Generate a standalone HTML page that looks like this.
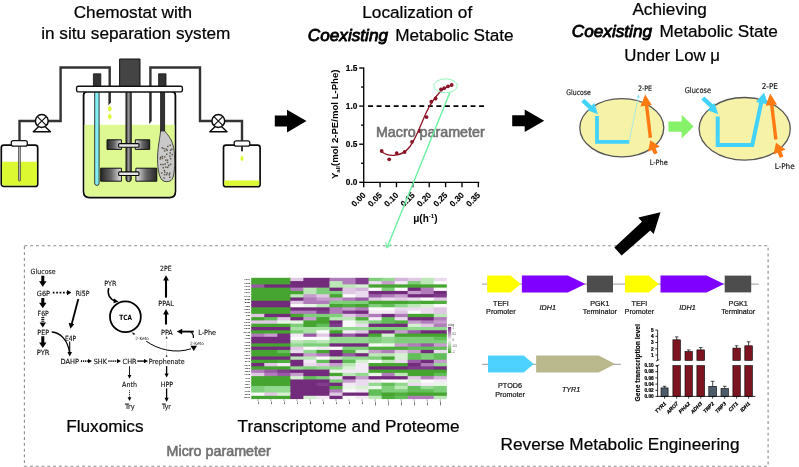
<!DOCTYPE html>
<html lang="en">
<head>
<meta charset="utf-8">
<title>Graphical abstract</title>
<style>
html,body{margin:0;padding:0;background:#fff;overflow:hidden;}
svg{display:block;font-family:"Liberation Sans",sans-serif;will-change:transform;}
</style>
</head>
<body>
<svg width="799" height="467" viewBox="0 0 799 467">
<rect width="799" height="467" fill="#fff"/>
<!-- dashed box -->
<rect x="24.4" y="245.8" width="743.7" height="220.4" fill="none" stroke="#8c8c8c" stroke-width="1.1" stroke-dasharray="2.9 2.88"/>

<defs>
<linearGradient id="bl" x1="0" x2="1"><stop offset="0" stop-color="#262626"/><stop offset="0.5" stop-color="#666"/><stop offset="1" stop-color="#e6e6e6"/></linearGradient>
<linearGradient id="br" x1="0" x2="1"><stop offset="0" stop-color="#e6e6e6"/><stop offset="0.5" stop-color="#666"/><stop offset="1" stop-color="#262626"/></linearGradient>
<linearGradient id="sh" x1="0" x2="1"><stop offset="0" stop-color="#333"/><stop offset="0.5" stop-color="#999"/><stop offset="1" stop-color="#333"/></linearGradient>
</defs>
<g stroke-linejoin="round">
<!-- left bottle -->
<rect x="1.3" y="145.1" width="36.4" height="41.3" rx="2.5" fill="#fff" stroke="#0a0a0a" stroke-width="1.7"/>
<path d="M2.15 161.8H36.85V184.1Q36.85 185.55 35.4 185.55H3.6Q2.15 185.55 2.15 184.1Z" fill="#dbf831"/>
<rect x="18.5" y="146" width="1.9" height="35" rx="0.9" fill="#bbb" stroke="#333" stroke-width="0.7"/>
<path d="M19.5 141V121H60.6V67.5H109.7V86" fill="none" stroke="#333" stroke-width="2.4" stroke-linejoin="miter"/>
<rect x="11.3" y="140.6" width="16" height="5.6" rx="2" fill="#fff" stroke="#111" stroke-width="1.3"/>
<!-- left pump -->
<path d="M41.8 123.5L33.3 131.7H50.5Z" fill="#fff" stroke="#0a0a0a" stroke-width="1.4"/>
<circle cx="41.8" cy="121" r="6.4" fill="#fff" stroke="#0a0a0a" stroke-width="1.5"/>
<path d="M37.6 116.8L46 125.2M46 116.8L37.6 125.2" stroke="#111" stroke-width="1.2" fill="none"/>
<!-- right pipe -->
<path d="M150.4 86V67.5H200V121H242V141" fill="none" stroke="#333" stroke-width="2.4" stroke-linejoin="miter"/>
<!-- right pump -->
<path d="M218.3 123.5L209.8 131.7H227Z" fill="#fff" stroke="#0a0a0a" stroke-width="1.4"/>
<circle cx="218.3" cy="121" r="6.4" fill="#fff" stroke="#0a0a0a" stroke-width="1.5"/>
<path d="M214.1 116.8L222.5 125.2M222.5 116.8L214.1 125.2" stroke="#111" stroke-width="1.2" fill="none"/>
<!-- right bottle -->
<rect x="223.5" y="145.1" width="36.6" height="41.6" rx="2.5" fill="#fff" stroke="#0a0a0a" stroke-width="1.7"/>
<path d="M224.35 180.6H259.25V184.4Q259.25 185.85 257.8 185.85H225.8Q224.35 185.85 224.35 184.4Z" fill="#dbf831"/>
<rect x="241" y="146" width="2" height="5.3" fill="#333"/>
<rect x="234.2" y="140.8" width="15.6" height="5.4" rx="2" fill="#fff" stroke="#111" stroke-width="1.3"/>
<path d="M242 155.6q2.6 3.8 0 5.2q-2.6 -1.4 0 -5.2z" fill="#dbf831" stroke="#dbf831" stroke-width="0.6"/>
<!-- vessel -->
<path d="M83.6 95.5Q83.6 91.5 87.6 91.5H171.4Q175.4 91.5 175.4 95.5V191.5Q175.4 197.5 169.4 197.5H89.6Q83.6 197.5 83.6 191.5Z" fill="#fff" stroke="#0a0a0a" stroke-width="1.8"/>
<path d="M84.5 124.8H174.5V191.3Q174.5 196.6 169.2 196.6H89.8Q84.5 196.6 84.5 191.3Z" fill="#dff992"/>
<path d="M108.4 91h2.5v11.4l-2.5 2.8z" fill="#2a2a2a" stroke="none"/>
<path d="M149.2 91h2.5v30l-2.5 2.9z" fill="#2a2a2a" stroke="none"/>
<!-- motor -->
<rect x="119.6" y="59" width="20.4" height="27.5" fill="#444" stroke="#111" stroke-width="1"/>
<!-- posts -->
<rect x="93.4" y="73.8" width="7.4" height="12.9" fill="#333" stroke="#111" stroke-width="0.8"/>
<rect x="158.6" y="73.8" width="7.4" height="12.9" fill="#333" stroke="#111" stroke-width="0.8"/>
<!-- cyan tube -->
<path d="M94.7 92V183.2Q94.7 185.4 96.9 185.4Q99.1 185.4 99.1 183.2V92Z" fill="#82eef2" stroke="#222" stroke-width="0.9"/>
<!-- drops -->
<path d="M109.8 105.9q2.9 3.7 0 5.3q-2.9 -1.6 0 -5.3z" fill="#dbf831" stroke="#dbf831" stroke-width="0.8"/>
<path d="M109.8 113.8q2.9 3.7 0 5.3q-2.9 -1.6 0 -5.3z" fill="#dbf831" stroke="#dbf831" stroke-width="0.8"/>
<!-- rod + bag -->
<rect x="160.6" y="92" width="4" height="39.4" fill="#333" stroke="#111" stroke-width="0.8"/>
<path d="M160.6 131C160.2 136 158 146 157.6 156C157.3 166 158.5 176 162 180C164 182 168.5 182.2 171 180.5C174.2 178 174.9 168 174.6 158C174.4 149 173.2 142.5 169 136.5C167.2 134 165.5 132 164.6 131Z" fill="#c9c9c9" stroke="#333" stroke-width="0.9"/>
<g fill="#5c5448"><rect x="167.1" y="145.7" width="1.45" height="1.45"/><rect x="169.5" y="144.5" width="1.45" height="1.45"/><rect x="161.5" y="147.1" width="1.45" height="1.45"/><rect x="163.2" y="147.9" width="1.45" height="1.45"/><rect x="165.6" y="148.4" width="1.45" height="1.45"/><rect x="171.2" y="148.5" width="1.45" height="1.45"/><rect x="164.1" y="150.2" width="1.45" height="1.45"/><rect x="166.5" y="149.6" width="1.45" height="1.45"/><rect x="169.8" y="149.5" width="1.45" height="1.45"/><rect x="166.0" y="153.6" width="1.45" height="1.45"/><rect x="169.4" y="152.2" width="1.45" height="1.45"/><rect x="171.5" y="153.9" width="1.45" height="1.45"/><rect x="159.9" y="156.6" width="1.45" height="1.45"/><rect x="161.7" y="155.8" width="1.45" height="1.45"/><rect x="164.0" y="156.2" width="1.45" height="1.45"/><rect x="169.2" y="155.5" width="1.45" height="1.45"/><rect x="159.6" y="158.2" width="1.45" height="1.45"/><rect x="161.7" y="157.7" width="1.45" height="1.45"/><rect x="165.1" y="159.4" width="1.45" height="1.45"/><rect x="166.8" y="159.4" width="1.45" height="1.45"/><rect x="169.9" y="158.0" width="1.45" height="1.45"/><rect x="166.8" y="161.7" width="1.45" height="1.45"/><rect x="160.1" y="163.8" width="1.45" height="1.45"/><rect x="162.4" y="163.9" width="1.45" height="1.45"/><rect x="164.5" y="163.3" width="1.45" height="1.45"/><rect x="168.0" y="164.7" width="1.45" height="1.45"/><rect x="169.9" y="163.6" width="1.45" height="1.45"/><rect x="162.5" y="167.0" width="1.45" height="1.45"/><rect x="165.1" y="166.4" width="1.45" height="1.45"/><rect x="167.0" y="166.6" width="1.45" height="1.45"/><rect x="163.6" y="169.8" width="1.45" height="1.45"/><rect x="161.0" y="172.3" width="1.45" height="1.45"/><rect x="164.0" y="171.4" width="1.45" height="1.45"/><rect x="166.4" y="172.3" width="1.45" height="1.45"/><rect x="169.0" y="172.5" width="1.45" height="1.45"/><rect x="163.8" y="173.9" width="1.45" height="1.45"/><rect x="165.9" y="173.9" width="1.45" height="1.45"/><rect x="168.6" y="174.1" width="1.45" height="1.45"/><rect x="163.3" y="177.2" width="1.45" height="1.45"/><rect x="169.0" y="176.6" width="1.45" height="1.45"/></g>
<!-- impellers -->
<rect x="107" y="139.8" width="14.4" height="9.6" fill="url(#bl)" stroke="#111" stroke-width="1"/>
<rect x="135.3" y="139.8" width="14.4" height="9.6" fill="url(#br)" stroke="#111" stroke-width="1"/>
<rect x="100.7" y="168.2" width="20.7" height="13" fill="url(#bl)" stroke="#111" stroke-width="1"/>
<rect x="135.9" y="168.2" width="20.9" height="13" fill="url(#br)" stroke="#111" stroke-width="1"/>
<!-- shaft -->
<path d="M126 92V179.5Q126 181.6 128.6 181.6Q131.2 181.6 131.2 179.5V92Z" fill="url(#sh)" stroke="#111" stroke-width="1"/>
<rect x="118.6" y="143.6" width="20.4" height="3.6" rx="1" fill="#e4e4e4" stroke="#0a0a0a" stroke-width="1.1"/>
<rect x="118.6" y="171.9" width="20.4" height="3.6" rx="1" fill="#e4e4e4" stroke="#0a0a0a" stroke-width="1.1"/>
<!-- lid -->
<rect x="76.6" y="86.3" width="105.8" height="5.6" rx="1.6" fill="#fff" stroke="#111" stroke-width="1.4"/>
</g>

<path d="M274.8 115.6H287V109.8L306.5 121.1L287 132.4V126.6H274.8Z" fill="#000"/>
<path d="M512.2 115.3H524.7V109.5L544.2 120.8L524.7 132.1V126.3H512.2Z" fill="#000"/>
<g stroke="#000" stroke-width="1.35" fill="none">
<path d="M363.7 67.5V182.9M363.1 182.3H479.3"/>
<path d="M359.2 182.30H363.7"/>
<path d="M361.09999999999997 163.25H363.7"/>
<path d="M359.2 144.20H363.7"/>
<path d="M361.09999999999997 125.15H363.7"/>
<path d="M359.2 106.10H363.7"/>
<path d="M361.09999999999997 87.05H363.7"/>
<path d="M359.2 68.00H363.7"/>
<path d="M363.70 182.3V187.2"/>
<path d="M380.08 182.3V187.2"/>
<path d="M396.46 182.3V187.2"/>
<path d="M412.84 182.3V187.2"/>
<path d="M429.22 182.3V187.2"/>
<path d="M445.60 182.3V187.2"/>
<path d="M461.98 182.3V187.2"/>
<path d="M478.36 182.3V187.2"/>
</g>
<path d="M368.1 106.1H484.4" stroke="#000" stroke-width="1.8" stroke-dasharray="4.9 3.64" fill="none"/>
<g font-weight="bold" fill="#000" stroke="#000" stroke-width="1.5">
<text transform="translate(357.40,185.30) scale(0.1)" font-size="83" text-anchor="end">0.0</text>
<text transform="translate(357.40,147.20) scale(0.1)" font-size="83" text-anchor="end">0.5</text>
<text transform="translate(357.40,109.10) scale(0.1)" font-size="83" text-anchor="end">1.0</text>
<text transform="translate(357.40,71.00) scale(0.1)" font-size="83" text-anchor="end">1.5</text>
<text transform="translate(366.20,195.80) rotate(-45) scale(0.1)" font-size="83" text-anchor="end">0.00</text>
<text transform="translate(382.58,195.80) rotate(-45) scale(0.1)" font-size="83" text-anchor="end">0.05</text>
<text transform="translate(398.96,195.80) rotate(-45) scale(0.1)" font-size="83" text-anchor="end">0.10</text>
<text transform="translate(415.34,195.80) rotate(-45) scale(0.1)" font-size="83" text-anchor="end">0.15</text>
<text transform="translate(431.72,195.80) rotate(-45) scale(0.1)" font-size="83" text-anchor="end">0.20</text>
<text transform="translate(448.10,195.80) rotate(-45) scale(0.1)" font-size="83" text-anchor="end">0.25</text>
<text transform="translate(464.48,195.80) rotate(-45) scale(0.1)" font-size="83" text-anchor="end">0.30</text>
<text transform="translate(480.86,195.80) rotate(-45) scale(0.1)" font-size="83" text-anchor="end">0.35</text>
</g>
<text transform="translate(425.4,222) scale(0.1)" font-size="100" font-weight="bold" text-anchor="middle">μ(h<tspan font-size="62" dy="-40">-1</tspan><tspan dy="40">)</tspan></text>
<text transform="translate(338.2,124.3) rotate(-90) scale(0.1)" font-size="96" font-weight="bold" text-anchor="middle">Y<tspan font-size="60" dy="18">all</tspan><tspan dy="-18">(mol 2-PE/mol L-Phe)</tspan></text>
<path d="M381.7 151.8C385 154.5 389 155.6 394 155.3C400 155 405.5 152.5 410 146.5C416 138.5 421 124 426.5 112C430 104.5 434.5 98 439.5 92.5C443.5 88.5 447.5 86.5 452 85" fill="none" stroke="#8c1528" stroke-width="1.3"/>
<g fill="#8c1528"><circle cx="381.7" cy="151" r="1.9"/><circle cx="389.2" cy="159.3" r="1.9"/><circle cx="396.7" cy="153.1" r="1.9"/><circle cx="404.6" cy="152" r="1.9"/><circle cx="412" cy="141.8" r="1.9"/><circle cx="419.6" cy="131" r="1.9"/><circle cx="426.6" cy="117.1" r="1.9"/><circle cx="431.3" cy="101.7" r="1.9"/><circle cx="435.6" cy="98.5" r="1.9"/><circle cx="441" cy="89.3" r="1.9"/><circle cx="444.2" cy="88.2" r="1.9"/><circle cx="448" cy="86.3" r="1.9"/><circle cx="451.7" cy="85" r="1.9"/></g>
<text x="375.9" y="136.5" font-size="14.3" fill="#707070" stroke="#707070" stroke-width="0.6">Macro parameter</text>
<ellipse cx="445.6" cy="85.8" rx="11.8" ry="6.9" fill="none" stroke="#86f4b2" stroke-width="0.9"/>
<path d="M449.9 92.6L387.1 247.4" stroke="#6cf2a2" stroke-width="1.45" fill="none"/>
<path d="M385.7 242.3L387 247.8L391.2 244.1" stroke="#6cf2a2" stroke-width="1.1" fill="none"/>

<g font-size="7.3" fill="#111" stroke="#111" stroke-width="1.5" font-family="'DejaVu Sans Condensed','DejaVu Sans','Liberation Sans',sans-serif">
<ellipse cx="621.8" cy="127.8" rx="42" ry="29.1" fill="#f6f2a8" stroke="#555" stroke-width="1.3"/>
<ellipse cx="744.7" cy="128.8" rx="45.6" ry="31.3" fill="#f6f2a8" stroke="#555" stroke-width="1.3"/>
<text transform="translate(566.30,94.70) scale(0.1)" font-size="75" textLength="245.0" lengthAdjust="spacingAndGlyphs">Glucose</text>
<text transform="translate(637.90,91.20) scale(0.1)" font-size="75" textLength="142.0" lengthAdjust="spacingAndGlyphs">2-PE</text>
<text transform="translate(649.70,164.70) scale(0.1)" font-size="75" textLength="180.0" lengthAdjust="spacingAndGlyphs">L-Phe</text>
<text transform="translate(684.70,93.00) scale(0.1)" font-size="79" textLength="263.0" lengthAdjust="spacingAndGlyphs">Glucose</text>
<text transform="translate(761.80,89.30) scale(0.1)" font-size="79" textLength="160.0" lengthAdjust="spacingAndGlyphs">2-PE</text>
<text transform="translate(774.70,169.00) scale(0.1)" font-size="79" textLength="200.0" lengthAdjust="spacingAndGlyphs">L-Phe</text>
</g>
<g fill="none" stroke="#42d2fa" stroke-linejoin="miter">
<path d="M597 116V141.8H629.2" stroke-width="3.8"/>
<path d="M582.8 100.3L592 108.8" stroke-width="4.3"/>
<path d="M717.7 116.4V144.9H752.3L761.5 101" stroke-width="4"/>
<path d="M702.8 98L712.3 106.8" stroke-width="4.4"/>
<path d="M629.2 141.8L638.2 97" stroke="#8fe4f4" stroke-width="0.7"/>
</g>
<path d="M598 114.2L587.4 110.3L594.2 103Z" fill="#42d2fa"/>
<path d="M718.3 114.2L707.5 110.3L714.5 103Z" fill="#42d2fa"/>
<path d="M764 92.5L768.2 104.5L756 102Z" fill="#42d2fa"/>
<path d="M638.6 94.6L640 98L636.6 97.3Z" fill="#8fe4f4"/>
<g fill="none" stroke="#ff7a12">
<path d="M650.4 137.8L646.4 104" stroke-width="3.4"/>
<path d="M655.8 153.8L653.3 148" stroke-width="4"/>
<path d="M775.9 139.5L771.6 104" stroke-width="3.4"/>
<path d="M781.6 157.2L779 150.8" stroke-width="4"/>
</g>
<path d="M645.2 94.5L651.8 105L640.4 106.4Z" fill="#ff7a12"/>
<path d="M650.3 140.3L659.8 146.6L648 151.8Z" fill="#ff7a12"/>
<path d="M770.2 93.5L777 104.4L765.6 105.8Z" fill="#ff7a12"/>
<path d="M776 142.8L785.6 149.4L773.6 154.6Z" fill="#ff7a12"/>
<path d="M668.4 121.39999999999999H681.7V114.8L693.6 126.6L681.7 138.4V131.79999999999998H668.4Z" fill="#86f26a"/>
<path d="M614.3 247.4L642 221.7L638.3 217.4L660.5 212.3L653.7 234L650.3 230.6L621.6 255.5Z" fill="#000"/>
<g font-size="7.1" fill="#111" stroke="#111" stroke-width="1.2" font-family="'DejaVu Sans Condensed','DejaVu Sans','Liberation Sans',sans-serif">
<text transform="translate(30.60,274.20) scale(0.1)" font-size="71" textLength="250.0" lengthAdjust="spacingAndGlyphs">Glucose</text>
<text transform="translate(36.80,295.60) scale(0.1)" font-size="71" textLength="132.0" lengthAdjust="spacingAndGlyphs">G6P</text>
<text transform="translate(75.70,295.60) scale(0.1)" font-size="71" textLength="137.0" lengthAdjust="spacingAndGlyphs">Ri5P</text>
<text transform="translate(37.60,316.20) scale(0.1)" font-size="71" textLength="112.0" lengthAdjust="spacingAndGlyphs">F6P</text>
<text transform="translate(37.30,334.90) scale(0.1)" font-size="71" textLength="118.0" lengthAdjust="spacingAndGlyphs">PEP</text>
<text transform="translate(36.80,355.10) scale(0.1)" font-size="71" textLength="127.0" lengthAdjust="spacingAndGlyphs">PYR</text>
<text transform="translate(64.90,340.60) scale(0.1)" font-size="71" textLength="113.0" lengthAdjust="spacingAndGlyphs">E4P</text>
<text transform="translate(60.60,363.90) scale(0.1)" font-size="71" textLength="185.0" lengthAdjust="spacingAndGlyphs">DAHP</text>
<text transform="translate(93.70,363.90) scale(0.1)" font-size="71" textLength="133.0" lengthAdjust="spacingAndGlyphs">SHK</text>
<text transform="translate(122.60,363.90) scale(0.1)" font-size="71" textLength="140.0" lengthAdjust="spacingAndGlyphs">CHR</text>
<text transform="translate(148.70,363.90) scale(0.1)" font-size="71" textLength="360.0" lengthAdjust="spacingAndGlyphs">Prephenate</text>
<text transform="translate(104.20,285.90) scale(0.1)" font-size="71" textLength="122.0" lengthAdjust="spacingAndGlyphs">PYR</text>
<text transform="translate(160.00,271.10) scale(0.1)" font-size="71" textLength="116.0" lengthAdjust="spacingAndGlyphs">2PE</text>
<text transform="translate(158.20,306.30) scale(0.1)" font-size="71" textLength="156.0" lengthAdjust="spacingAndGlyphs">PPAL</text>
<text transform="translate(161.00,334.70) scale(0.1)" font-size="71" textLength="118.0" lengthAdjust="spacingAndGlyphs">PPA</text>
<text transform="translate(198.20,334.70) scale(0.1)" font-size="71" textLength="179.0" lengthAdjust="spacingAndGlyphs">L-Phe</text>
<text transform="translate(122.10,386.90) scale(0.1)" font-size="71" textLength="149.0" lengthAdjust="spacingAndGlyphs">Anth</text>
<text transform="translate(160.70,386.90) scale(0.1)" font-size="71" textLength="125.0" lengthAdjust="spacingAndGlyphs">HPP</text>
<text transform="translate(125.00,409.10) scale(0.1)" font-size="71" textLength="97.0" lengthAdjust="spacingAndGlyphs">Try</text>
<text transform="translate(162.00,409.10) scale(0.1)" font-size="71" textLength="89.0" lengthAdjust="spacingAndGlyphs">Tyr</text>
</g>
<text transform="translate(119.3,319.7) scale(0.1)" font-size="72" font-weight="bold" font-family="'DejaVu Sans Condensed','DejaVu Sans','Liberation Sans',sans-serif" textLength="126" lengthAdjust="spacingAndGlyphs">TCA</text>
<g font-size="3.9" fill="#222" font-family="'DejaVu Sans Condensed','DejaVu Sans','Liberation Sans',sans-serif"><text transform="translate(135.20,339.60) scale(0.1)" font-size="44" textLength="138.0" lengthAdjust="spacingAndGlyphs">2-Keto</text><text transform="translate(190.10,344.60) scale(0.1)" font-size="44" textLength="138.0" lengthAdjust="spacingAndGlyphs">2-Keto</text></g>
<path d="M41.3 275.8H44.3V281.3H46.5L42.8 286.8L39.099999999999994 281.3H41.3Z" fill="#000"/>
<path d="M41.3 298H44.3V302.7H46.5L42.8 308.2L39.099999999999994 302.7H41.3Z" fill="#000"/>
<path d="M41.3 336.3H44.3V342.5H46.5L42.8 348L39.099999999999994 342.5H41.3Z" fill="#000"/>
<path d="M41.3 317.6h3M41.3 319.4h3M41.3 321.2h3" stroke="#000" stroke-width="1" />
<path d="M39.6 322.4H46L42.8 327.4Z" fill="#000"/>
<g stroke="#000" stroke-width="1.7" fill="none">
<path d="M52.8 292.6H67" stroke-dasharray="1.7 1.7"/>
<path d="M81 361.1H88.5" stroke-dasharray="1.1 1"/>
<path d="M108.4 361.1H117.5" stroke-dasharray="1.1 1"/>
</g>
<path d="M67 290L71.4 292.6L67 295.2Z" fill="#000"/>
<path d="M88 358.9L92 361.1L88 363.3Z" fill="#000"/>
<path d="M117 358.9L121 361.1L117 363.3Z" fill="#000"/>
<path d="M78.3 299L71.6 324.6" stroke="#000" stroke-width="1.8" fill="none"/>
<path d="M70.4 328.8L68.6 322.8L74.2 324.2Z" fill="#000"/>
<path d="M51.7 332C61 332.5 68 341 69.6 353" stroke="#000" stroke-width="1.3" fill="none"/>
<path d="M69.7 341.4V353" stroke="#000" stroke-width="1.1" fill="none"/>
<path d="M67.4 352L69.7 356.6L72 352Z" fill="#000"/>
<path d="M137.2 361.1H144.6" stroke="#000" stroke-width="1.3"/><path d="M144 358.9L148 361.1L144 363.3Z" fill="#000"/>
<circle cx="125.4" cy="316.8" r="15.4" fill="none" stroke="#000" stroke-width="1.8"/>
<path d="M108.7 288C107 294 109.5 299.5 115.5 301" stroke="#000" stroke-width="1.5" fill="none"/>
<path d="M114.2 298.6L118.6 301.8L113.4 303.2Z" fill="#000"/>
<path d="M166 297.6V279.5" stroke="#000" stroke-width="2.1"/><path d="M166 275.2L168.9 280.6H163.1Z" fill="#000"/>
<path d="M166 324.5V313.5" stroke="#000" stroke-width="2.1"/><path d="M166 309L168.9 314.4H163.1Z" fill="#000"/>
<path d="M193.8 331.6H181" stroke="#000" stroke-width="1.8"/><path d="M176.8 331.6L182.2 328.7V334.5Z" fill="#000"/>
<path d="M190.5 331.8C192.8 333 193.6 335.5 193.4 338" stroke="#000" stroke-width="1.2" fill="none"/>
<path d="M131.8 332.8L134 333.8" stroke="#000" stroke-width="0.8"/><path d="M135.4 334.4L132.8 334.6L133.6 332.6Z" fill="#000"/>
<path d="M146.2 341.2C158 349.5 175 354 191 348.8" stroke="#000" stroke-width="1" fill="none"/>
<path d="M190.4 345.8H197L193.8 351Z" fill="#000"/>
<path d="M166.6 357V338.5" stroke="#999" stroke-width="0.6" stroke-dasharray="0.7 0.7"/>
<path d="M166.6 336.3L167.6 338.6H165.6Z" fill="#222"/><path d="M166.6 354.5L167.6 356.8H165.6Z" fill="#222"/>
<path d="M129.5 366.2V375.5" stroke="#000" stroke-width="0.9"/><path d="M129.5 378.8L127.6 375H131.4Z" fill="#000"/>
<path d="M129.5 390.3V398" stroke="#000" stroke-width="0.9" stroke-dasharray="0.9 0.9"/><path d="M129.5 401L127.6 397.2H131.4Z" fill="#000"/>
<path d="M166.6 366.2V374" stroke="#000" stroke-width="1.3"/><path d="M166.6 377.6L164.5 373.4H168.7Z" fill="#000"/>
<path d="M166.6 388.4V398.5" stroke="#000" stroke-width="1.3"/><path d="M166.6 402L164.5 397.8H168.7Z" fill="#000"/>
<g>
<rect x="251.25" y="277.80" width="39.91" height="4.28" fill="#46a430"/>
<rect x="290.36" y="277.80" width="13.84" height="4.28" fill="#e0c8e4"/>
<rect x="303.39" y="277.80" width="26.87" height="4.28" fill="#732b7c"/>
<rect x="329.46" y="277.80" width="26.87" height="4.28" fill="#b07cba"/>
<rect x="355.53" y="277.80" width="13.84" height="4.28" fill="#803c8c"/>
<rect x="368.56" y="277.80" width="13.84" height="4.28" fill="#7ece7a"/>
<rect x="381.60" y="277.80" width="13.84" height="4.28" fill="#94d990"/>
<rect x="394.63" y="277.80" width="13.84" height="4.28" fill="#d4b4da"/>
<rect x="407.67" y="277.80" width="13.84" height="4.28" fill="#e0c8e4"/>
<rect x="420.71" y="277.80" width="13.84" height="4.28" fill="#bce8b8"/>
<rect x="433.74" y="277.80" width="13.04" height="4.28" fill="#ebdbee"/>
<rect x="251.25" y="281.08" width="39.91" height="4.28" fill="#46a430"/>
<rect x="290.36" y="281.08" width="39.91" height="4.28" fill="#732b7c"/>
<rect x="329.46" y="281.08" width="13.84" height="4.28" fill="#bce8b8"/>
<rect x="342.50" y="281.08" width="13.84" height="4.28" fill="#b07cba"/>
<rect x="355.53" y="281.08" width="13.84" height="4.28" fill="#803c8c"/>
<rect x="368.56" y="281.08" width="13.84" height="4.28" fill="#ebdbee"/>
<rect x="381.60" y="281.08" width="13.84" height="4.28" fill="#c69dcd"/>
<rect x="394.63" y="281.08" width="13.84" height="4.28" fill="#f3eaf5"/>
<rect x="407.67" y="281.08" width="13.84" height="4.28" fill="#7ece7a"/>
<rect x="420.71" y="281.08" width="13.84" height="4.28" fill="#bce8b8"/>
<rect x="433.74" y="281.08" width="13.04" height="4.28" fill="#fafafa"/>
<rect x="251.25" y="284.36" width="13.84" height="4.28" fill="#985aa4"/>
<rect x="264.29" y="284.36" width="65.97" height="4.28" fill="#732b7c"/>
<rect x="329.46" y="284.36" width="26.87" height="4.28" fill="#bce8b8"/>
<rect x="355.53" y="284.36" width="13.84" height="4.28" fill="#d6f1d2"/>
<rect x="368.56" y="284.36" width="78.21" height="4.28" fill="#46a430"/>
<rect x="251.25" y="287.63" width="39.91" height="4.28" fill="#46a430"/>
<rect x="290.36" y="287.63" width="13.84" height="4.28" fill="#b07cba"/>
<rect x="303.39" y="287.63" width="13.84" height="4.28" fill="#bce8b8"/>
<rect x="316.43" y="287.63" width="13.84" height="4.28" fill="#7ece7a"/>
<rect x="329.46" y="287.63" width="13.84" height="4.28" fill="#732b7c"/>
<rect x="342.50" y="287.63" width="13.84" height="4.28" fill="#e0c8e4"/>
<rect x="355.53" y="287.63" width="13.84" height="4.28" fill="#d4b4da"/>
<rect x="368.56" y="287.63" width="13.84" height="4.28" fill="#fafafa"/>
<rect x="381.60" y="287.63" width="13.84" height="4.28" fill="#7ece7a"/>
<rect x="394.63" y="287.63" width="13.84" height="4.28" fill="#fafafa"/>
<rect x="407.67" y="287.63" width="13.84" height="4.28" fill="#732b7c"/>
<rect x="420.71" y="287.63" width="13.84" height="4.28" fill="#b07cba"/>
<rect x="433.74" y="287.63" width="13.04" height="4.28" fill="#fafafa"/>
<rect x="251.25" y="290.91" width="52.94" height="4.28" fill="#46a430"/>
<rect x="303.39" y="290.91" width="13.84" height="4.28" fill="#bce8b8"/>
<rect x="316.43" y="290.91" width="26.87" height="4.28" fill="#7ece7a"/>
<rect x="342.50" y="290.91" width="13.84" height="4.28" fill="#e0c8e4"/>
<rect x="355.53" y="290.91" width="13.84" height="4.28" fill="#ebdbee"/>
<rect x="368.56" y="290.91" width="39.91" height="4.28" fill="#732b7c"/>
<rect x="407.67" y="290.91" width="13.84" height="4.28" fill="#c69dcd"/>
<rect x="420.71" y="290.91" width="13.84" height="4.28" fill="#b07cba"/>
<rect x="433.74" y="290.91" width="13.04" height="4.28" fill="#732b7c"/>
<rect x="251.25" y="294.19" width="39.91" height="4.28" fill="#46a430"/>
<rect x="290.36" y="294.19" width="13.84" height="4.28" fill="#bce8b8"/>
<rect x="303.39" y="294.19" width="13.84" height="4.28" fill="#c69dcd"/>
<rect x="316.43" y="294.19" width="13.84" height="4.28" fill="#e0c8e4"/>
<rect x="329.46" y="294.19" width="13.84" height="4.28" fill="#46a430"/>
<rect x="342.50" y="294.19" width="13.84" height="4.28" fill="#fafafa"/>
<rect x="355.53" y="294.19" width="13.84" height="4.28" fill="#ebdbee"/>
<rect x="368.56" y="294.19" width="13.84" height="4.28" fill="#985aa4"/>
<rect x="381.60" y="294.19" width="13.84" height="4.28" fill="#b07cba"/>
<rect x="394.63" y="294.19" width="13.84" height="4.28" fill="#c69dcd"/>
<rect x="407.67" y="294.19" width="26.87" height="4.28" fill="#732b7c"/>
<rect x="433.74" y="294.19" width="13.04" height="4.28" fill="#803c8c"/>
<rect x="251.25" y="297.47" width="39.91" height="4.28" fill="#46a430"/>
<rect x="290.36" y="297.47" width="13.84" height="4.28" fill="#732b7c"/>
<rect x="303.39" y="297.47" width="13.84" height="4.28" fill="#b07cba"/>
<rect x="316.43" y="297.47" width="26.87" height="4.28" fill="#c69dcd"/>
<rect x="342.50" y="297.47" width="13.84" height="4.28" fill="#b07cba"/>
<rect x="355.53" y="297.47" width="13.84" height="4.28" fill="#985aa4"/>
<rect x="368.56" y="297.47" width="13.84" height="4.28" fill="#e0c8e4"/>
<rect x="381.60" y="297.47" width="13.84" height="4.28" fill="#ebdbee"/>
<rect x="394.63" y="297.47" width="13.84" height="4.28" fill="#e0c8e4"/>
<rect x="407.67" y="297.47" width="13.84" height="4.28" fill="#ebdbee"/>
<rect x="420.71" y="297.47" width="13.84" height="4.28" fill="#fafafa"/>
<rect x="433.74" y="297.47" width="13.04" height="4.28" fill="#e0c8e4"/>
<rect x="251.25" y="300.75" width="39.91" height="4.28" fill="#732b7c"/>
<rect x="290.36" y="300.75" width="13.84" height="4.28" fill="#e0c8e4"/>
<rect x="303.39" y="300.75" width="26.87" height="4.28" fill="#b07cba"/>
<rect x="329.46" y="300.75" width="39.91" height="4.28" fill="#7ece7a"/>
<rect x="368.56" y="300.75" width="39.91" height="4.28" fill="#46a430"/>
<rect x="407.67" y="300.75" width="13.84" height="4.28" fill="#50ae3e"/>
<rect x="420.71" y="300.75" width="13.84" height="4.28" fill="#46a430"/>
<rect x="433.74" y="300.75" width="13.04" height="4.28" fill="#50ae3e"/>
<rect x="251.25" y="304.02" width="39.91" height="4.28" fill="#732b7c"/>
<rect x="290.36" y="304.02" width="13.84" height="4.28" fill="#fafafa"/>
<rect x="303.39" y="304.02" width="13.84" height="4.28" fill="#e8f6e6"/>
<rect x="316.43" y="304.02" width="13.84" height="4.28" fill="#bce8b8"/>
<rect x="329.46" y="304.02" width="13.84" height="4.28" fill="#46a430"/>
<rect x="342.50" y="304.02" width="13.84" height="4.28" fill="#50ae3e"/>
<rect x="355.53" y="304.02" width="13.84" height="4.28" fill="#46a430"/>
<rect x="368.56" y="304.02" width="13.84" height="4.28" fill="#7ece7a"/>
<rect x="381.60" y="304.02" width="13.84" height="4.28" fill="#62be58"/>
<rect x="394.63" y="304.02" width="13.84" height="4.28" fill="#94d990"/>
<rect x="407.67" y="304.02" width="13.84" height="4.28" fill="#bce8b8"/>
<rect x="420.71" y="304.02" width="13.84" height="4.28" fill="#d6f1d2"/>
<rect x="433.74" y="304.02" width="13.04" height="4.28" fill="#fafafa"/>
<rect x="251.25" y="307.30" width="39.91" height="4.28" fill="#46a430"/>
<rect x="290.36" y="307.30" width="39.91" height="4.28" fill="#732b7c"/>
<rect x="329.46" y="307.30" width="13.84" height="4.28" fill="#b07cba"/>
<rect x="342.50" y="307.30" width="13.84" height="4.28" fill="#c69dcd"/>
<rect x="355.53" y="307.30" width="13.84" height="4.28" fill="#b07cba"/>
<rect x="368.56" y="307.30" width="26.87" height="4.28" fill="#fafafa"/>
<rect x="394.63" y="307.30" width="39.91" height="4.28" fill="#ebdbee"/>
<rect x="433.74" y="307.30" width="13.04" height="4.28" fill="#e0c8e4"/>
<rect x="251.25" y="310.58" width="39.91" height="4.28" fill="#46a430"/>
<rect x="290.36" y="310.58" width="26.87" height="4.28" fill="#b07cba"/>
<rect x="316.43" y="310.58" width="13.84" height="4.28" fill="#803c8c"/>
<rect x="329.46" y="310.58" width="13.84" height="4.28" fill="#b07cba"/>
<rect x="342.50" y="310.58" width="13.84" height="4.28" fill="#803c8c"/>
<rect x="355.53" y="310.58" width="13.84" height="4.28" fill="#732b7c"/>
<rect x="368.56" y="310.58" width="26.87" height="4.28" fill="#f3eaf5"/>
<rect x="394.63" y="310.58" width="13.84" height="4.28" fill="#e0c8e4"/>
<rect x="407.67" y="310.58" width="13.84" height="4.28" fill="#fafafa"/>
<rect x="420.71" y="310.58" width="13.84" height="4.28" fill="#ebdbee"/>
<rect x="433.74" y="310.58" width="13.04" height="4.28" fill="#e0c8e4"/>
<rect x="251.25" y="313.86" width="13.84" height="4.28" fill="#e0c8e4"/>
<rect x="264.29" y="313.86" width="26.87" height="4.28" fill="#732b7c"/>
<rect x="290.36" y="313.86" width="13.84" height="4.28" fill="#46a430"/>
<rect x="303.39" y="313.86" width="39.91" height="4.28" fill="#7ece7a"/>
<rect x="342.50" y="313.86" width="13.84" height="4.28" fill="#e0c8e4"/>
<rect x="355.53" y="313.86" width="13.84" height="4.28" fill="#c69dcd"/>
<rect x="368.56" y="313.86" width="13.84" height="4.28" fill="#b07cba"/>
<rect x="381.60" y="313.86" width="13.84" height="4.28" fill="#732b7c"/>
<rect x="394.63" y="313.86" width="13.84" height="4.28" fill="#b07cba"/>
<rect x="407.67" y="313.86" width="26.87" height="4.28" fill="#46a430"/>
<rect x="433.74" y="313.86" width="13.04" height="4.28" fill="#bce8b8"/>
<rect x="251.25" y="317.14" width="13.84" height="4.28" fill="#46a430"/>
<rect x="264.29" y="317.14" width="13.84" height="4.28" fill="#62be58"/>
<rect x="277.32" y="317.14" width="13.84" height="4.28" fill="#e0c8e4"/>
<rect x="290.36" y="317.14" width="13.84" height="4.28" fill="#732b7c"/>
<rect x="303.39" y="317.14" width="13.84" height="4.28" fill="#c69dcd"/>
<rect x="316.43" y="317.14" width="13.84" height="4.28" fill="#46a430"/>
<rect x="329.46" y="317.14" width="26.87" height="4.28" fill="#bce8b8"/>
<rect x="355.53" y="317.14" width="13.84" height="4.28" fill="#50ae3e"/>
<rect x="368.56" y="317.14" width="13.84" height="4.28" fill="#f3eaf5"/>
<rect x="381.60" y="317.14" width="13.84" height="4.28" fill="#62be58"/>
<rect x="394.63" y="317.14" width="13.84" height="4.28" fill="#ebdbee"/>
<rect x="407.67" y="317.14" width="26.87" height="4.28" fill="#732b7c"/>
<rect x="433.74" y="317.14" width="13.04" height="4.28" fill="#b07cba"/>
<rect x="251.25" y="320.41" width="26.87" height="4.28" fill="#e0c8e4"/>
<rect x="277.32" y="320.41" width="26.87" height="4.28" fill="#e8f6e6"/>
<rect x="303.39" y="320.41" width="26.87" height="4.28" fill="#46a430"/>
<rect x="329.46" y="320.41" width="13.84" height="4.28" fill="#732b7c"/>
<rect x="342.50" y="320.41" width="13.84" height="4.28" fill="#fafafa"/>
<rect x="355.53" y="320.41" width="13.84" height="4.28" fill="#bce8b8"/>
<rect x="368.56" y="320.41" width="13.84" height="4.28" fill="#7ece7a"/>
<rect x="381.60" y="320.41" width="13.84" height="4.28" fill="#62be58"/>
<rect x="394.63" y="320.41" width="13.84" height="4.28" fill="#50ae3e"/>
<rect x="407.67" y="320.41" width="13.84" height="4.28" fill="#c69dcd"/>
<rect x="420.71" y="320.41" width="13.84" height="4.28" fill="#b07cba"/>
<rect x="433.74" y="320.41" width="13.04" height="4.28" fill="#c69dcd"/>
<rect x="251.25" y="323.69" width="39.91" height="4.28" fill="#46a430"/>
<rect x="290.36" y="323.69" width="13.84" height="4.28" fill="#7ece7a"/>
<rect x="303.39" y="323.69" width="13.84" height="4.28" fill="#46a430"/>
<rect x="316.43" y="323.69" width="13.84" height="4.28" fill="#62be58"/>
<rect x="329.46" y="323.69" width="13.84" height="4.28" fill="#803c8c"/>
<rect x="342.50" y="323.69" width="13.84" height="4.28" fill="#fafafa"/>
<rect x="355.53" y="323.69" width="13.84" height="4.28" fill="#ebdbee"/>
<rect x="368.56" y="323.69" width="39.91" height="4.28" fill="#732b7c"/>
<rect x="407.67" y="323.69" width="13.84" height="4.28" fill="#d6f1d2"/>
<rect x="420.71" y="323.69" width="13.84" height="4.28" fill="#e0c8e4"/>
<rect x="433.74" y="323.69" width="13.04" height="4.28" fill="#b07cba"/>
<rect x="251.25" y="326.97" width="39.91" height="4.28" fill="#732b7c"/>
<rect x="290.36" y="326.97" width="39.91" height="4.28" fill="#a8e1a4"/>
<rect x="329.46" y="326.97" width="39.91" height="4.28" fill="#94d990"/>
<rect x="368.56" y="326.97" width="39.91" height="4.28" fill="#7ece7a"/>
<rect x="407.67" y="326.97" width="39.11" height="4.28" fill="#94d990"/>
<rect x="251.25" y="330.25" width="39.91" height="4.28" fill="#46a430"/>
<rect x="290.36" y="330.25" width="13.84" height="4.28" fill="#7ece7a"/>
<rect x="303.39" y="330.25" width="13.84" height="4.28" fill="#a8e1a4"/>
<rect x="316.43" y="330.25" width="13.84" height="4.28" fill="#fafafa"/>
<rect x="329.46" y="330.25" width="13.84" height="4.28" fill="#46a430"/>
<rect x="342.50" y="330.25" width="13.84" height="4.28" fill="#f3eaf5"/>
<rect x="355.53" y="330.25" width="13.84" height="4.28" fill="#e0c8e4"/>
<rect x="368.56" y="330.25" width="26.87" height="4.28" fill="#732b7c"/>
<rect x="394.63" y="330.25" width="13.84" height="4.28" fill="#c69dcd"/>
<rect x="407.67" y="330.25" width="13.84" height="4.28" fill="#985aa4"/>
<rect x="420.71" y="330.25" width="26.07" height="4.28" fill="#732b7c"/>
<rect x="251.25" y="333.53" width="13.84" height="4.28" fill="#b07cba"/>
<rect x="264.29" y="333.53" width="13.84" height="4.28" fill="#c69dcd"/>
<rect x="277.32" y="333.53" width="13.84" height="4.28" fill="#732b7c"/>
<rect x="290.36" y="333.53" width="13.84" height="4.28" fill="#f3eaf5"/>
<rect x="303.39" y="333.53" width="13.84" height="4.28" fill="#985aa4"/>
<rect x="316.43" y="333.53" width="13.84" height="4.28" fill="#e0c8e4"/>
<rect x="329.46" y="333.53" width="13.84" height="4.28" fill="#732b7c"/>
<rect x="342.50" y="333.53" width="13.84" height="4.28" fill="#985aa4"/>
<rect x="355.53" y="333.53" width="13.84" height="4.28" fill="#732b7c"/>
<rect x="368.56" y="333.53" width="13.84" height="4.28" fill="#46a430"/>
<rect x="381.60" y="333.53" width="13.84" height="4.28" fill="#d6f1d2"/>
<rect x="394.63" y="333.53" width="52.14" height="4.28" fill="#46a430"/>
<rect x="251.25" y="336.80" width="39.91" height="4.28" fill="#732b7c"/>
<rect x="290.36" y="336.80" width="39.91" height="4.28" fill="#fafafa"/>
<rect x="329.46" y="336.80" width="39.91" height="4.28" fill="#94d990"/>
<rect x="368.56" y="336.80" width="13.84" height="4.28" fill="#7ece7a"/>
<rect x="381.60" y="336.80" width="13.84" height="4.28" fill="#94d990"/>
<rect x="394.63" y="336.80" width="39.91" height="4.28" fill="#7ece7a"/>
<rect x="433.74" y="336.80" width="13.04" height="4.28" fill="#62be58"/>
<rect x="251.25" y="340.08" width="39.91" height="4.28" fill="#732b7c"/>
<rect x="290.36" y="340.08" width="13.84" height="4.28" fill="#bce8b8"/>
<rect x="303.39" y="340.08" width="13.84" height="4.28" fill="#a8e1a4"/>
<rect x="316.43" y="340.08" width="13.84" height="4.28" fill="#bce8b8"/>
<rect x="329.46" y="340.08" width="39.91" height="4.28" fill="#94d990"/>
<rect x="368.56" y="340.08" width="13.84" height="4.28" fill="#7ece7a"/>
<rect x="381.60" y="340.08" width="13.84" height="4.28" fill="#94d990"/>
<rect x="394.63" y="340.08" width="52.14" height="4.28" fill="#7ece7a"/>
<rect x="251.25" y="343.36" width="39.91" height="4.28" fill="#46a430"/>
<rect x="290.36" y="343.36" width="13.84" height="4.28" fill="#94d990"/>
<rect x="303.39" y="343.36" width="26.87" height="4.28" fill="#7ece7a"/>
<rect x="329.46" y="343.36" width="39.91" height="4.28" fill="#732b7c"/>
<rect x="368.56" y="343.36" width="13.84" height="4.28" fill="#fafafa"/>
<rect x="381.60" y="343.36" width="13.84" height="4.28" fill="#e8f6e6"/>
<rect x="394.63" y="343.36" width="13.84" height="4.28" fill="#c69dcd"/>
<rect x="407.67" y="343.36" width="13.84" height="4.28" fill="#b07cba"/>
<rect x="420.71" y="343.36" width="13.84" height="4.28" fill="#985aa4"/>
<rect x="433.74" y="343.36" width="13.04" height="4.28" fill="#c69dcd"/>
<rect x="251.25" y="346.64" width="39.91" height="4.28" fill="#732b7c"/>
<rect x="290.36" y="346.64" width="13.84" height="4.28" fill="#e0c8e4"/>
<rect x="303.39" y="346.64" width="13.84" height="4.28" fill="#fafafa"/>
<rect x="316.43" y="346.64" width="13.84" height="4.28" fill="#f3eaf5"/>
<rect x="329.46" y="346.64" width="13.84" height="4.28" fill="#fafafa"/>
<rect x="342.50" y="346.64" width="26.87" height="4.28" fill="#7ece7a"/>
<rect x="368.56" y="346.64" width="39.91" height="4.28" fill="#50ae3e"/>
<rect x="407.67" y="346.64" width="39.11" height="4.28" fill="#62be58"/>
<rect x="251.25" y="349.92" width="26.87" height="4.28" fill="#46a430"/>
<rect x="277.32" y="349.92" width="13.84" height="4.28" fill="#62be58"/>
<rect x="290.36" y="349.92" width="13.84" height="4.28" fill="#ebdbee"/>
<rect x="303.39" y="349.92" width="13.84" height="4.28" fill="#94d990"/>
<rect x="316.43" y="349.92" width="13.84" height="4.28" fill="#46a430"/>
<rect x="329.46" y="349.92" width="13.84" height="4.28" fill="#732b7c"/>
<rect x="342.50" y="349.92" width="13.84" height="4.28" fill="#50ae3e"/>
<rect x="355.53" y="349.92" width="13.84" height="4.28" fill="#d6f1d2"/>
<rect x="368.56" y="349.92" width="13.84" height="4.28" fill="#c69dcd"/>
<rect x="381.60" y="349.92" width="13.84" height="4.28" fill="#b07cba"/>
<rect x="394.63" y="349.92" width="13.84" height="4.28" fill="#e0c8e4"/>
<rect x="407.67" y="349.92" width="13.84" height="4.28" fill="#c69dcd"/>
<rect x="420.71" y="349.92" width="13.84" height="4.28" fill="#732b7c"/>
<rect x="433.74" y="349.92" width="13.04" height="4.28" fill="#ebdbee"/>
<rect x="251.25" y="353.19" width="39.91" height="4.28" fill="#46a430"/>
<rect x="290.36" y="353.19" width="13.84" height="4.28" fill="#732b7c"/>
<rect x="303.39" y="353.19" width="13.84" height="4.28" fill="#c69dcd"/>
<rect x="316.43" y="353.19" width="13.84" height="4.28" fill="#b07cba"/>
<rect x="329.46" y="353.19" width="13.84" height="4.28" fill="#732b7c"/>
<rect x="342.50" y="353.19" width="13.84" height="4.28" fill="#985aa4"/>
<rect x="355.53" y="353.19" width="13.84" height="4.28" fill="#732b7c"/>
<rect x="368.56" y="353.19" width="26.87" height="4.28" fill="#bce8b8"/>
<rect x="394.63" y="353.19" width="13.84" height="4.28" fill="#d6f1d2"/>
<rect x="407.67" y="353.19" width="13.84" height="4.28" fill="#62be58"/>
<rect x="420.71" y="353.19" width="13.84" height="4.28" fill="#7ece7a"/>
<rect x="433.74" y="353.19" width="13.04" height="4.28" fill="#62be58"/>
<rect x="251.25" y="356.47" width="39.91" height="4.28" fill="#732b7c"/>
<rect x="290.36" y="356.47" width="26.87" height="4.28" fill="#bce8b8"/>
<rect x="316.43" y="356.47" width="13.84" height="4.28" fill="#fafafa"/>
<rect x="329.46" y="356.47" width="13.84" height="4.28" fill="#bce8b8"/>
<rect x="342.50" y="356.47" width="26.87" height="4.28" fill="#94d990"/>
<rect x="368.56" y="356.47" width="13.84" height="4.28" fill="#7ece7a"/>
<rect x="381.60" y="356.47" width="13.84" height="4.28" fill="#46a430"/>
<rect x="394.63" y="356.47" width="13.84" height="4.28" fill="#d6f1d2"/>
<rect x="407.67" y="356.47" width="13.84" height="4.28" fill="#62be58"/>
<rect x="420.71" y="356.47" width="13.84" height="4.28" fill="#7ece7a"/>
<rect x="433.74" y="356.47" width="13.04" height="4.28" fill="#62be58"/>
<rect x="251.25" y="359.75" width="26.87" height="4.28" fill="#46a430"/>
<rect x="277.32" y="359.75" width="13.84" height="4.28" fill="#50ae3e"/>
<rect x="290.36" y="359.75" width="13.84" height="4.28" fill="#732b7c"/>
<rect x="303.39" y="359.75" width="13.84" height="4.28" fill="#f3eaf5"/>
<rect x="316.43" y="359.75" width="13.84" height="4.28" fill="#62be58"/>
<rect x="329.46" y="359.75" width="13.84" height="4.28" fill="#732b7c"/>
<rect x="342.50" y="359.75" width="13.84" height="4.28" fill="#62be58"/>
<rect x="355.53" y="359.75" width="13.84" height="4.28" fill="#d6f1d2"/>
<rect x="368.56" y="359.75" width="13.84" height="4.28" fill="#fafafa"/>
<rect x="381.60" y="359.75" width="13.84" height="4.28" fill="#bce8b8"/>
<rect x="394.63" y="359.75" width="13.84" height="4.28" fill="#ebdbee"/>
<rect x="407.67" y="359.75" width="13.84" height="4.28" fill="#985aa4"/>
<rect x="420.71" y="359.75" width="13.84" height="4.28" fill="#732b7c"/>
<rect x="433.74" y="359.75" width="13.04" height="4.28" fill="#c69dcd"/>
<rect x="251.25" y="363.03" width="13.84" height="4.28" fill="#732b7c"/>
<rect x="264.29" y="363.03" width="13.84" height="4.28" fill="#e0c8e4"/>
<rect x="277.32" y="363.03" width="13.84" height="4.28" fill="#f3eaf5"/>
<rect x="290.36" y="363.03" width="13.84" height="4.28" fill="#732b7c"/>
<rect x="303.39" y="363.03" width="13.84" height="4.28" fill="#ebdbee"/>
<rect x="316.43" y="363.03" width="13.84" height="4.28" fill="#e0c8e4"/>
<rect x="329.46" y="363.03" width="13.84" height="4.28" fill="#c69dcd"/>
<rect x="342.50" y="363.03" width="13.84" height="4.28" fill="#bce8b8"/>
<rect x="355.53" y="363.03" width="13.84" height="4.28" fill="#f3eaf5"/>
<rect x="368.56" y="363.03" width="39.91" height="4.28" fill="#46a430"/>
<rect x="407.67" y="363.03" width="13.84" height="4.28" fill="#732b7c"/>
<rect x="420.71" y="363.03" width="13.84" height="4.28" fill="#b07cba"/>
<rect x="433.74" y="363.03" width="13.04" height="4.28" fill="#94d990"/>
<rect x="251.25" y="366.31" width="39.91" height="4.28" fill="#46a430"/>
<rect x="290.36" y="366.31" width="13.84" height="4.28" fill="#94d990"/>
<rect x="303.39" y="366.31" width="13.84" height="4.28" fill="#7ece7a"/>
<rect x="316.43" y="366.31" width="26.87" height="4.28" fill="#94d990"/>
<rect x="342.50" y="366.31" width="13.84" height="4.28" fill="#d6f1d2"/>
<rect x="355.53" y="366.31" width="13.84" height="4.28" fill="#f3eaf5"/>
<rect x="368.56" y="366.31" width="39.91" height="4.28" fill="#732b7c"/>
<rect x="407.67" y="366.31" width="26.87" height="4.28" fill="#803c8c"/>
<rect x="433.74" y="366.31" width="13.04" height="4.28" fill="#732b7c"/>
<rect x="251.25" y="369.58" width="13.84" height="4.28" fill="#b07cba"/>
<rect x="264.29" y="369.58" width="13.84" height="4.28" fill="#985aa4"/>
<rect x="277.32" y="369.58" width="13.84" height="4.28" fill="#803c8c"/>
<rect x="290.36" y="369.58" width="39.91" height="4.28" fill="#732b7c"/>
<rect x="329.46" y="369.58" width="13.84" height="4.28" fill="#e8f6e6"/>
<rect x="342.50" y="369.58" width="26.87" height="4.28" fill="#f3eaf5"/>
<rect x="368.56" y="369.58" width="78.21" height="4.28" fill="#46a430"/>
<rect x="251.25" y="372.86" width="13.84" height="4.28" fill="#e0c8e4"/>
<rect x="264.29" y="372.86" width="13.84" height="4.28" fill="#b07cba"/>
<rect x="277.32" y="372.86" width="13.84" height="4.28" fill="#985aa4"/>
<rect x="290.36" y="372.86" width="13.84" height="4.28" fill="#c69dcd"/>
<rect x="303.39" y="372.86" width="26.87" height="4.28" fill="#732b7c"/>
<rect x="329.46" y="372.86" width="13.84" height="4.28" fill="#46a430"/>
<rect x="342.50" y="372.86" width="13.84" height="4.28" fill="#bce8b8"/>
<rect x="355.53" y="372.86" width="13.84" height="4.28" fill="#94d990"/>
<rect x="368.56" y="372.86" width="13.84" height="4.28" fill="#e8f6e6"/>
<rect x="381.60" y="372.86" width="13.84" height="4.28" fill="#b07cba"/>
<rect x="394.63" y="372.86" width="13.84" height="4.28" fill="#bce8b8"/>
<rect x="407.67" y="372.86" width="26.87" height="4.28" fill="#46a430"/>
<rect x="433.74" y="372.86" width="13.04" height="4.28" fill="#62be58"/>
<rect x="251.25" y="376.14" width="39.91" height="4.28" fill="#46a430"/>
<rect x="290.36" y="376.14" width="13.84" height="4.28" fill="#d6f1d2"/>
<rect x="303.39" y="376.14" width="13.84" height="4.28" fill="#62be58"/>
<rect x="316.43" y="376.14" width="13.84" height="4.28" fill="#7ece7a"/>
<rect x="329.46" y="376.14" width="13.84" height="4.28" fill="#ebdbee"/>
<rect x="342.50" y="376.14" width="13.84" height="4.28" fill="#732b7c"/>
<rect x="355.53" y="376.14" width="13.84" height="4.28" fill="#c69dcd"/>
<rect x="368.56" y="376.14" width="39.91" height="4.28" fill="#732b7c"/>
<rect x="407.67" y="376.14" width="13.84" height="4.28" fill="#e0c8e4"/>
<rect x="420.71" y="376.14" width="13.84" height="4.28" fill="#b07cba"/>
<rect x="433.74" y="376.14" width="13.04" height="4.28" fill="#d4b4da"/>
<rect x="251.25" y="379.42" width="39.91" height="4.28" fill="#46a430"/>
<rect x="290.36" y="379.42" width="39.91" height="4.28" fill="#732b7c"/>
<rect x="329.46" y="379.42" width="13.84" height="4.28" fill="#7ece7a"/>
<rect x="342.50" y="379.42" width="13.84" height="4.28" fill="#c69dcd"/>
<rect x="355.53" y="379.42" width="13.84" height="4.28" fill="#ebdbee"/>
<rect x="368.56" y="379.42" width="13.84" height="4.28" fill="#f3eaf5"/>
<rect x="381.60" y="379.42" width="26.87" height="4.28" fill="#fafafa"/>
<rect x="407.67" y="379.42" width="13.84" height="4.28" fill="#d6f1d2"/>
<rect x="420.71" y="379.42" width="13.84" height="4.28" fill="#fafafa"/>
<rect x="433.74" y="379.42" width="13.04" height="4.28" fill="#f3eaf5"/>
<rect x="251.25" y="382.70" width="39.91" height="4.28" fill="#46a430"/>
<rect x="290.36" y="382.70" width="26.87" height="4.28" fill="#732b7c"/>
<rect x="316.43" y="382.70" width="13.84" height="4.28" fill="#803c8c"/>
<rect x="329.46" y="382.70" width="13.84" height="4.28" fill="#732b7c"/>
<rect x="342.50" y="382.70" width="13.84" height="4.28" fill="#f3eaf5"/>
<rect x="355.53" y="382.70" width="13.84" height="4.28" fill="#ebdbee"/>
<rect x="368.56" y="382.70" width="13.84" height="4.28" fill="#94d990"/>
<rect x="381.60" y="382.70" width="13.84" height="4.28" fill="#62be58"/>
<rect x="394.63" y="382.70" width="13.84" height="4.28" fill="#94d990"/>
<rect x="407.67" y="382.70" width="13.84" height="4.28" fill="#ebdbee"/>
<rect x="420.71" y="382.70" width="13.84" height="4.28" fill="#f3eaf5"/>
<rect x="433.74" y="382.70" width="13.04" height="4.28" fill="#e8f6e6"/>
<rect x="251.25" y="385.97" width="13.84" height="4.28" fill="#7ece7a"/>
<rect x="264.29" y="385.97" width="26.87" height="4.28" fill="#94d990"/>
<rect x="290.36" y="385.97" width="39.91" height="4.28" fill="#732b7c"/>
<rect x="329.46" y="385.97" width="13.84" height="4.28" fill="#50ae3e"/>
<rect x="342.50" y="385.97" width="13.84" height="4.28" fill="#e8f6e6"/>
<rect x="355.53" y="385.97" width="13.84" height="4.28" fill="#d6f1d2"/>
<rect x="368.56" y="385.97" width="13.84" height="4.28" fill="#e8f6e6"/>
<rect x="381.60" y="385.97" width="13.84" height="4.28" fill="#7ece7a"/>
<rect x="394.63" y="385.97" width="13.84" height="4.28" fill="#bce8b8"/>
<rect x="407.67" y="385.97" width="13.84" height="4.28" fill="#62be58"/>
<rect x="420.71" y="385.97" width="13.84" height="4.28" fill="#94d990"/>
<rect x="433.74" y="385.97" width="13.04" height="4.28" fill="#7ece7a"/>
<rect x="251.25" y="389.25" width="13.84" height="4.28" fill="#7ece7a"/>
<rect x="264.29" y="389.25" width="26.87" height="4.28" fill="#94d990"/>
<rect x="290.36" y="389.25" width="39.91" height="4.28" fill="#732b7c"/>
<rect x="329.46" y="389.25" width="13.84" height="4.28" fill="#b07cba"/>
<rect x="342.50" y="389.25" width="13.84" height="4.28" fill="#fafafa"/>
<rect x="355.53" y="389.25" width="13.84" height="4.28" fill="#f3eaf5"/>
<rect x="368.56" y="389.25" width="13.84" height="4.28" fill="#62be58"/>
<rect x="381.60" y="389.25" width="26.87" height="4.28" fill="#7ece7a"/>
<rect x="407.67" y="389.25" width="26.87" height="4.28" fill="#62be58"/>
<rect x="433.74" y="389.25" width="13.04" height="4.28" fill="#7ece7a"/>
<rect x="251.25" y="392.53" width="13.84" height="4.28" fill="#fafafa"/>
<rect x="264.29" y="392.53" width="13.84" height="4.28" fill="#e0c8e4"/>
<rect x="277.32" y="392.53" width="13.84" height="4.28" fill="#d6f1d2"/>
<rect x="290.36" y="392.53" width="39.91" height="4.28" fill="#732b7c"/>
<rect x="329.46" y="392.53" width="13.84" height="4.28" fill="#e0c8e4"/>
<rect x="342.50" y="392.53" width="26.87" height="4.28" fill="#732b7c"/>
<rect x="368.56" y="392.53" width="13.84" height="4.28" fill="#62be58"/>
<rect x="381.60" y="392.53" width="13.84" height="4.28" fill="#46a430"/>
<rect x="394.63" y="392.53" width="13.84" height="4.28" fill="#50ae3e"/>
<rect x="407.67" y="392.53" width="39.11" height="4.28" fill="#46a430"/>
<rect x="251.25" y="395.81" width="39.91" height="3.28" fill="#46a430"/>
<rect x="290.36" y="395.81" width="13.84" height="3.28" fill="#732b7c"/>
<rect x="303.39" y="395.81" width="13.84" height="3.28" fill="#d6f1d2"/>
<rect x="316.43" y="395.81" width="13.84" height="3.28" fill="#f3eaf5"/>
<rect x="329.46" y="395.81" width="13.84" height="3.28" fill="#732b7c"/>
<rect x="342.50" y="395.81" width="13.84" height="3.28" fill="#fafafa"/>
<rect x="355.53" y="395.81" width="13.84" height="3.28" fill="#f3eaf5"/>
<rect x="368.56" y="395.81" width="13.84" height="3.28" fill="#bce8b8"/>
<rect x="381.60" y="395.81" width="13.84" height="3.28" fill="#50ae3e"/>
<rect x="394.63" y="395.81" width="13.84" height="3.28" fill="#62be58"/>
<rect x="407.67" y="395.81" width="26.87" height="3.28" fill="#b07cba"/>
<rect x="433.74" y="395.81" width="13.04" height="3.28" fill="#bce8b8"/>
</g>
<g font-size="22" fill="#000" font-weight="bold" text-anchor="end">
<text transform="translate(250.2,280.29) scale(0.1)">ARO4</text>
<text transform="translate(250.2,283.57) scale(0.1)">ARO3</text>
<text transform="translate(250.2,286.85) scale(0.1)">ARO1</text>
<text transform="translate(250.2,290.12) scale(0.1)">ARO2</text>
<text transform="translate(250.2,293.40) scale(0.1)">ARO7</text>
<text transform="translate(250.2,296.68) scale(0.1)">PHA2</text>
<text transform="translate(250.2,299.96) scale(0.1)">Bap2</text>
<text transform="translate(250.2,303.24) scale(0.1)">Bap3</text>
<text transform="translate(250.2,306.51) scale(0.1)">Bat1</text>
<text transform="translate(250.2,309.79) scale(0.1)">GDP1</text>
<text transform="translate(250.2,313.07) scale(0.1)">ARO9</text>
<text transform="translate(250.2,316.35) scale(0.1)">Cit1</text>
<text transform="translate(250.2,319.63) scale(0.1)">Idh1</text>
<text transform="translate(250.2,322.90) scale(0.1)">PDC1</text>
<text transform="translate(250.2,326.18) scale(0.1)">PDC5</text>
<text transform="translate(250.2,329.46) scale(0.1)">PDC6</text>
<text transform="translate(250.2,332.74) scale(0.1)">ARO10</text>
<text transform="translate(250.2,336.02) scale(0.1)">Trp1</text>
<text transform="translate(250.2,339.29) scale(0.1)">ALD2</text>
<text transform="translate(250.2,342.57) scale(0.1)">ALD3</text>
<text transform="translate(250.2,345.85) scale(0.1)">ADH1</text>
<text transform="translate(250.2,349.13) scale(0.1)">ADH2</text>
<text transform="translate(250.2,352.41) scale(0.1)">ADH3</text>
<text transform="translate(250.2,355.68) scale(0.1)">ADH4</text>
<text transform="translate(250.2,358.96) scale(0.1)">ADH5</text>
<text transform="translate(250.2,362.24) scale(0.1)">SFA1</text>
<text transform="translate(250.2,365.52) scale(0.1)">ADH6</text>
<text transform="translate(250.2,368.80) scale(0.1)">TRP2</text>
<text transform="translate(250.2,372.07) scale(0.1)">TRP3</text>
<text transform="translate(250.2,375.35) scale(0.1)">ARO8</text>
<text transform="translate(250.2,378.63) scale(0.1)">ATF1</text>
<text transform="translate(250.2,381.91) scale(0.1)">ATF2</text>
<text transform="translate(250.2,385.19) scale(0.1)">TRP4</text>
<text transform="translate(250.2,388.46) scale(0.1)">TRP5</text>
<text transform="translate(250.2,391.74) scale(0.1)">TYR1</text>
<text transform="translate(250.2,395.02) scale(0.1)">TDH3</text>
<text transform="translate(250.2,398.30) scale(0.1)">ZWF1</text>
</g>
<g font-size="24" fill="#000" font-weight="bold" text-anchor="end" stroke="none">
<line x1="257.77" y1="399.4" x2="257.77" y2="400.8" stroke="#444" stroke-width="0.6"/>
<text transform="translate(258.67,401.3) rotate(-90) scale(0.1)">S1</text>
<line x1="270.80" y1="399.4" x2="270.80" y2="400.8" stroke="#444" stroke-width="0.6"/>
<text transform="translate(271.70,401.3) rotate(-90) scale(0.1)">S2</text>
<line x1="283.84" y1="399.4" x2="283.84" y2="400.8" stroke="#444" stroke-width="0.6"/>
<text transform="translate(284.74,401.3) rotate(-90) scale(0.1)">S3</text>
<line x1="296.87" y1="399.4" x2="296.87" y2="400.8" stroke="#444" stroke-width="0.6"/>
<text transform="translate(297.77,401.3) rotate(-90) scale(0.1)">S4</text>
<line x1="309.91" y1="399.4" x2="309.91" y2="400.8" stroke="#444" stroke-width="0.6"/>
<text transform="translate(310.81,401.3) rotate(-90) scale(0.1)">S5</text>
<line x1="322.94" y1="399.4" x2="322.94" y2="400.8" stroke="#444" stroke-width="0.6"/>
<text transform="translate(323.84,401.3) rotate(-90) scale(0.1)">S6</text>
<line x1="335.98" y1="399.4" x2="335.98" y2="400.8" stroke="#444" stroke-width="0.6"/>
<text transform="translate(336.88,401.3) rotate(-90) scale(0.1)">S7</text>
<line x1="349.01" y1="399.4" x2="349.01" y2="400.8" stroke="#444" stroke-width="0.6"/>
<text transform="translate(349.91,401.3) rotate(-90) scale(0.1)">S8</text>
<line x1="362.05" y1="399.4" x2="362.05" y2="400.8" stroke="#444" stroke-width="0.6"/>
<text transform="translate(362.95,401.3) rotate(-90) scale(0.1)">S9</text>
<line x1="375.08" y1="399.4" x2="375.08" y2="400.8" stroke="#444" stroke-width="0.6"/>
<text transform="translate(375.98,401.3) rotate(-90) scale(0.1)">S10</text>
<line x1="388.12" y1="399.4" x2="388.12" y2="400.8" stroke="#444" stroke-width="0.6"/>
<text transform="translate(389.02,401.3) rotate(-90) scale(0.1)">S11</text>
<line x1="401.15" y1="399.4" x2="401.15" y2="400.8" stroke="#444" stroke-width="0.6"/>
<text transform="translate(402.05,401.3) rotate(-90) scale(0.1)">S12</text>
<line x1="414.19" y1="399.4" x2="414.19" y2="400.8" stroke="#444" stroke-width="0.6"/>
<text transform="translate(415.09,401.3) rotate(-90) scale(0.1)">S13</text>
<line x1="427.22" y1="399.4" x2="427.22" y2="400.8" stroke="#444" stroke-width="0.6"/>
<text transform="translate(428.12,401.3) rotate(-90) scale(0.1)">S14</text>
<line x1="440.26" y1="399.4" x2="440.26" y2="400.8" stroke="#444" stroke-width="0.6"/>
<text transform="translate(441.16,401.3) rotate(-90) scale(0.1)">S15</text>
</g>
<defs><linearGradient id="lg" x1="0" y1="0" x2="0" y2="1"><stop offset="0" stop-color="#732b7c"/><stop offset="0.5" stop-color="#f7f7f7"/><stop offset="1" stop-color="#46a430"/></linearGradient></defs>
<rect x="448" y="327" width="3.2" height="26" fill="url(#lg)"/>
<g font-size="26" fill="#333"><text transform="translate(448,325.8) scale(0.1)">value</text><text transform="translate(452.4,328.6) scale(0.1)">1</text><text transform="translate(452.4,334.7) scale(0.1)">0.5</text><text transform="translate(452.4,340.9) scale(0.1)">0</text><text transform="translate(452.4,347) scale(0.1)">-0.5</text><text transform="translate(452.4,353.2) scale(0.1)">-1</text></g>
<path d="M482 284.1H758.6M482 364.3H620.8" stroke="#999" stroke-width="1" fill="none"/>
<path d="M487.2 275.6H510.7L520.6 284.0L510.7 292.4H487.2Z" fill="#ffff00"/>
<path d="M521.9 275.6H567.9L585.4 284.0L567.9 292.4H521.9Z" fill="#8000ff"/>
<rect x="586.9" y="275.6" width="26.1" height="16.8" fill="#4d4d4d"/>
<path d="M625 275.6H648.6L658.7 284.0L648.6 292.4H625Z" fill="#ffff00"/>
<path d="M660.5 275.6H706.5L724.1 284.0L706.5 292.4H660.5Z" fill="#8000ff"/>
<rect x="724.7" y="275.6" width="26.5" height="16.8" fill="#4d4d4d"/>
<path d="M488 355.6H523.7L533.7 364.1L523.7 372.6H488Z" fill="#4dd2ff"/>
<path d="M536.1 355.6H598.7L615.2 364.1L598.7 372.6H536.1Z" fill="#b9b98d"/>
<g fill="#111" stroke="#111" stroke-width="2">
<text transform="translate(500.90,305.60) scale(0.1)" font-size="72" text-anchor="middle">TEFI</text><text transform="translate(500.90,314.10) scale(0.1)" font-size="72" text-anchor="middle">Promoter</text>
<text transform="translate(639.40,305.60) scale(0.1)" font-size="72" text-anchor="middle">TEFI</text><text transform="translate(639.40,314.10) scale(0.1)" font-size="72" text-anchor="middle">Promoter</text>
<text transform="translate(599.80,305.60) scale(0.1)" font-size="72" text-anchor="middle">PGK1</text><text transform="translate(599.80,314.10) scale(0.1)" font-size="72" text-anchor="middle">Terminator</text>
<text transform="translate(738.20,305.60) scale(0.1)" font-size="72" text-anchor="middle">PGK1</text><text transform="translate(738.20,314.10) scale(0.1)" font-size="72" text-anchor="middle">Terminator</text>
<text transform="translate(547.80,310.20) scale(0.1)" font-size="72" text-anchor="middle" font-style="italic">IDH1</text><text transform="translate(687.50,310.20) scale(0.1)" font-size="72" text-anchor="middle" font-style="italic">IDH1</text>
<text transform="translate(510.00,388.20) scale(0.1)" font-size="72" text-anchor="middle">PTOD6</text><text transform="translate(510.00,396.70) scale(0.1)" font-size="72" text-anchor="middle">Promoter</text>
<text transform="translate(571.10,392.30) scale(0.1)" font-size="72" text-anchor="middle" font-style="italic">TYR1</text>
</g>
<path d="M664.55 387.9V386.3M662.75 386.3H666.3499999999999" stroke="#000" stroke-width="0.7" fill="none"/>
<rect x="661" y="387.9" width="7.1" height="8.5" fill="#4c5c6a" stroke="#000" stroke-width="0.6"/>
<path d="M676.7 339.8V336.9M674.9000000000001 336.9H678.5" stroke="#000" stroke-width="0.7" fill="none"/>
<rect x="672.9" y="339.8" width="7.6" height="20.6" fill="#7c1422" stroke="#000" stroke-width="0.6"/>
<rect x="672.9" y="365.6" width="7.6" height="30.8" fill="#7c1422" stroke="#000" stroke-width="0.6"/>
<path d="M688.7 351.5V349.9M686.9000000000001 349.9H690.5" stroke="#000" stroke-width="0.7" fill="none"/>
<rect x="685" y="351.5" width="7.4" height="8.9" fill="#7c1422" stroke="#000" stroke-width="0.6"/>
<rect x="685" y="365.6" width="7.4" height="30.8" fill="#7c1422" stroke="#000" stroke-width="0.6"/>
<path d="M700.75 349.9V347.6M698.95 347.6H702.55" stroke="#000" stroke-width="0.7" fill="none"/>
<rect x="696.9" y="349.9" width="7.7" height="10.5" fill="#7c1422" stroke="#000" stroke-width="0.6"/>
<rect x="696.9" y="365.6" width="7.7" height="30.8" fill="#7c1422" stroke="#000" stroke-width="0.6"/>
<path d="M712.65 386.3V381.3M710.85 381.3H714.4499999999999" stroke="#000" stroke-width="0.7" fill="none"/>
<rect x="708.8" y="386.3" width="7.7" height="10.1" fill="#4c5c6a" stroke="#000" stroke-width="0.6"/>
<path d="M724.7 388.5V386.3M722.9000000000001 386.3H726.5" stroke="#000" stroke-width="0.7" fill="none"/>
<rect x="721" y="388.5" width="7.4" height="7.9" fill="#4c5c6a" stroke="#000" stroke-width="0.6"/>
<path d="M736.5999999999999 348.1V345.8M734.8 345.8H738.3999999999999" stroke="#000" stroke-width="0.7" fill="none"/>
<rect x="732.9" y="348.1" width="7.4" height="12.3" fill="#7c1422" stroke="#000" stroke-width="0.6"/>
<rect x="732.9" y="365.6" width="7.4" height="30.8" fill="#7c1422" stroke="#000" stroke-width="0.6"/>
<path d="M748.5999999999999 345.8V341.8M746.8 341.8H750.3999999999999" stroke="#000" stroke-width="0.7" fill="none"/>
<rect x="744.8" y="345.8" width="7.6" height="14.6" fill="#7c1422" stroke="#000" stroke-width="0.6"/>
<rect x="744.8" y="365.6" width="7.6" height="30.8" fill="#7c1422" stroke="#000" stroke-width="0.6"/>
<g stroke="#000" stroke-width="0.8" fill="none">
<path d="M657.6 330.1V360.4M657.6 365.6V396.8M657.2 396.4H755.3"/>
<path d="M656 361.2L659.2 359.6M656 366.4L659.2 364.8"/>
<path d="M655.4 330.1H657.6"/>
<path d="M655.4 336.3H657.6"/>
<path d="M655.4 342.5H657.6"/>
<path d="M655.4 348.8H657.6"/>
<path d="M655.4 355H657.6"/>
<path d="M655.4 365.6H657.6"/>
<path d="M655.4 371.7H657.6"/>
<path d="M655.4 377.9H657.6"/>
<path d="M655.4 384.1H657.6"/>
<path d="M655.4 390.3H657.6"/>
<path d="M655.4 396.4H657.6"/>
<path d="M664.55 396.4V398.6"/>
<path d="M676.7 396.4V398.6"/>
<path d="M688.7 396.4V398.6"/>
<path d="M700.75 396.4V398.6"/>
<path d="M712.65 396.4V398.6"/>
<path d="M724.7 396.4V398.6"/>
<path d="M736.5999999999999 396.4V398.6"/>
<path d="M748.5999999999999 396.4V398.6"/>
</g>
<g font-weight="bold" fill="#000" stroke="#000" stroke-width="2.2">
<text transform="translate(653.60,331.80) scale(0.1)" font-size="47" text-anchor="end">5</text>
<text transform="translate(653.60,338.00) scale(0.1)" font-size="47" text-anchor="end">4</text>
<text transform="translate(653.60,344.20) scale(0.1)" font-size="47" text-anchor="end">3</text>
<text transform="translate(653.60,350.50) scale(0.1)" font-size="47" text-anchor="end">2</text>
<text transform="translate(653.60,356.70) scale(0.1)" font-size="47" text-anchor="end">1</text>
<text transform="translate(653.60,367.30) scale(0.1)" font-size="47" text-anchor="end">0.10</text>
<text transform="translate(653.60,373.40) scale(0.1)" font-size="47" text-anchor="end">0.08</text>
<text transform="translate(653.60,379.60) scale(0.1)" font-size="47" text-anchor="end">0.06</text>
<text transform="translate(653.60,385.80) scale(0.1)" font-size="47" text-anchor="end">0.04</text>
<text transform="translate(653.60,392.00) scale(0.1)" font-size="47" text-anchor="end">0.02</text>
<text transform="translate(653.60,398.10) scale(0.1)" font-size="47" text-anchor="end">0.00</text>
<text transform="translate(666.45,404.00) rotate(-45) scale(0.1)" font-size="52" text-anchor="end" font-style="italic">TYR1</text>
<text transform="translate(678.60,404.00) rotate(-45) scale(0.1)" font-size="52" text-anchor="end" font-style="italic">ARO7</text>
<text transform="translate(690.60,404.00) rotate(-45) scale(0.1)" font-size="52" text-anchor="end" font-style="italic">PHA2</text>
<text transform="translate(702.65,404.00) rotate(-45) scale(0.1)" font-size="52" text-anchor="end" font-style="italic">ADH3</text>
<text transform="translate(714.55,404.00) rotate(-45) scale(0.1)" font-size="52" text-anchor="end" font-style="italic">TRP2</text>
<text transform="translate(726.60,404.00) rotate(-45) scale(0.1)" font-size="52" text-anchor="end" font-style="italic">TRP3</text>
<text transform="translate(738.50,404.00) rotate(-45) scale(0.1)" font-size="52" text-anchor="end" font-style="italic">CIT1</text>
<text transform="translate(750.50,404.00) rotate(-45) scale(0.1)" font-size="52" text-anchor="end" font-style="italic">IDH1</text>
</g>
<text transform="translate(639.5,362.8) rotate(-90) scale(0.1)" font-size="68" font-weight="bold" text-anchor="middle" stroke="#000" stroke-width="1.5">Gene transcription level</text>

<g font-size="17.2" fill="#000" stroke="#000" stroke-width="0.22">
<text x="73.7" y="18.3">Chemostat with</text>
<text x="41.2" y="38.9">in situ separation system</text>
<text x="362.3" y="17.7">Localization of</text>
<text x="307.8" y="40.5" font-style="italic" stroke="#000" stroke-width="0.85" stroke-linejoin="round">Coexisting</text>
<text x="395.2" y="40.5">Metabolic State</text>
<text x="632.4" y="14.6">Achieving</text>
<text x="571.8" y="37.4" font-style="italic" stroke="#000" stroke-width="0.85" stroke-linejoin="round">Coexisting</text>
<text x="659.4" y="37.4">Metabolic State</text>
<text x="624.3" y="60.6" textLength="95.7" lengthAdjust="spacingAndGlyphs">Under Low μ</text>
<text x="66.2" y="431.6">Fluxomics</text>
<text x="237.6" y="431.5">Transcriptome and Proteome</text>
<text x="500.6" y="449.5">Reverse Metabolic Engineering</text>
</g>
<text x="166.6" y="456" font-size="14.3" fill="#707070" stroke="#707070" stroke-width="0.6">Micro parameter</text>

</svg>
</body>
</html>
